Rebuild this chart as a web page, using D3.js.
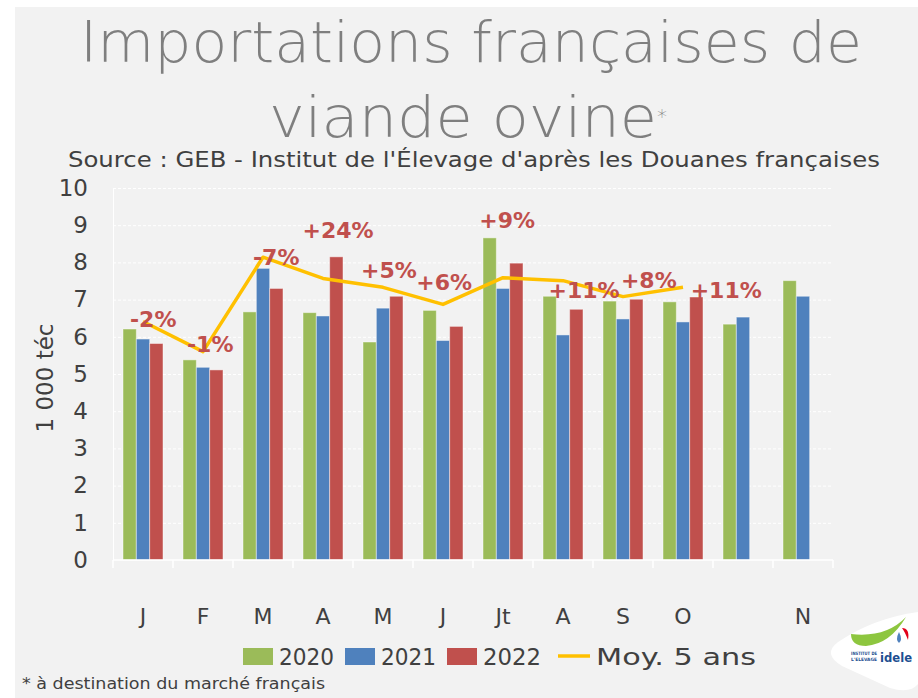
<!DOCTYPE html>
<html lang="fr">
<head>
    <meta charset="UTF-8">
    <title>Importations françaises de viande ovine</title>
    <style>
        body {
            margin: 0;
            padding: 0;
            background: #fff;
            font-family: 'DejaVu Sans', sans-serif;
        }
        .grid line {
            stroke: #fff;
            stroke-dasharray: 3 2;
        }
        .tick text {
            fill: #404040;
        }
        .pct {
            fill: #C0504D;
            font-weight: bold;
            font-size: 22px;
        }
    </style>
</head>
<body>
    <svg id="chart"></svg>

    <script src="https://d3js.org/d3.v7.min.js"></script>
    <script>
        // Data
        const months = ['J', 'F', 'M', 'A', 'M', 'J', 'Jt', 'A', 'S', 'O', '', 'N'];
        const y2020 = [6.21, 5.38, 6.67, 6.65, 5.86, 6.71, 8.66, 7.09, 6.96, 6.94, 6.34, 7.51];
        const y2021 = [5.94, 5.18, 7.84, 6.56, 6.77, 5.90, 7.30, 6.05, 6.48, 6.40, 6.53, 7.09];
        const y2022 = [5.82, 5.11, 7.30, 8.15, 7.09, 6.28, 7.98, 6.74, 7.01, 7.07];
        const moy5 = [6.41, 5.60, 8.14, 7.57, 7.33, 6.87, 7.59, 7.51, 7.08, 7.33];
        const pctLabels = ['-2%', '-1%', '-7%', '+24%', '+5%', '+6%', '+9%', '+11%', '+8%', '+11%'];
        // where each label sits (value axis) and its shift from the group centre, in groups
        const pctLabelY = [6.26, 5.59, 7.93, 8.66, 7.58, 7.26, 8.92, 7.04, 7.31, 7.04];
        const pctLabelDx = [0.17, 0.12, 0.22, 0.25, 0.1, 0.02, 0.07, 0.35, 0.43, 0.72];
        const yTicks = [0, 1, 2, 3, 4, 5, 6, 7, 8, 9, 10];

        const series = [
            { name: '2020', values: y2020, color: '#9BBB59' },
            { name: '2021', values: y2021, color: '#4F81BD' },
            { name: '2022', values: y2022, color: '#C0504D' }
        ];

        const width = 918;
        const height = 698;

        const svg = d3.select('#chart')
            .attr('width', width)
            .attr('height', height);

        // panel background
        svg.append('rect')
            .attr('x', 15).attr('y', 7)
            .attr('width', width - 15).attr('height', height - 7)
            .attr('fill', '#f2f2f2');

        // Scales
        const x0 = d3.scaleBand()
            .domain(d3.range(months.length))
            .range([113, 833])
            .paddingInner(1 / 3)
            .paddingOuter(1 / 6);

        const x1 = d3.scaleBand()
            .domain(series.map(s => s.name))
            .range([0, x0.bandwidth()]);

        const y = d3.scaleLinear()
            .domain([0, 10])
            .range([560, 188]);

        // Title
        svg.append('text')
            .attr('x', 471).attr('y', 62)
            .attr('text-anchor', 'middle')
            .attr('fill', '#7f7f7f')
            .attr('font-size', 57)
            .attr('font-weight', 300)
            .attr('textLength', 782)
            .attr('lengthAdjust', 'spacingAndGlyphs')
            .text('Importations françaises de');

        const t2 = svg.append('text')
            .attr('x', 468).attr('y', 137)
            .attr('text-anchor', 'middle')
            .attr('fill', '#7f7f7f')
            .attr('font-weight', 300)
            .attr('font-size', 57);
        t2.append('tspan')
            .attr('textLength', 388)
            .attr('lengthAdjust', 'spacingAndGlyphs')
            .text('viande ovine');
        t2.append('tspan')
            .attr('font-size', 20)
            .attr('dy', -14)
            .text('*');

        svg.append('text')
            .attr('x', 474).attr('y', 167)
            .attr('text-anchor', 'middle')
            .attr('fill', '#404040')
            .attr('font-size', 21)
            .attr('textLength', 812)
            .attr('lengthAdjust', 'spacingAndGlyphs')
            .text("Source : GEB - Institut de l'Élevage d'après les Douanes françaises");

        // Gridlines
        svg.append('g')
            .attr('class', 'grid')
            .attr('transform', 'translate(113,0)')
            .call(d3.axisLeft(y).tickValues(yTicks.slice(1)).tickSize(-720).tickFormat(''))
            .call(g => g.select('.domain').remove());

        // Y axis
        svg.append('g')
            .attr('transform', 'translate(113,0)')
            .call(d3.axisLeft(y).tickValues(yTicks).tickSize(0).tickPadding(25))
            .call(g => g.select('.domain').attr('stroke', '#fff'))
            .call(g => g.selectAll('.tick text')
                .attr('font-size', 23)
                .attr('font-family', 'DejaVu Sans'));

        svg.append('text')
            .attr('transform', 'translate(53,378) rotate(-90)')
            .attr('text-anchor', 'middle')
            .attr('fill', '#404040')
            .attr('font-size', 23)
            .text('1 000 téc');

        // Bars
        series.forEach(s => {
            svg.append('g')
                .selectAll('rect')
                .data(s.values)
                .join('rect')
                .attr('x', (d, i) => x0(i) + x1(s.name))
                .attr('y', d => y(d))
                .attr('width', x1.bandwidth())
                .attr('height', d => y(0) - y(d))
                .attr('fill', s.color)
                .attr('stroke', '#fff')
                .attr('stroke-opacity', 0.45)
                .attr('stroke-width', 1);
        });

        // X axis: boundary ticks + month labels
        const xAxis = svg.append('g');
        xAxis.append('line')
            .attr('x1', 113).attr('x2', 833)
            .attr('y1', y(0)).attr('y2', y(0))
            .attr('stroke', '#fff').attr('stroke-width', 1.5);
        xAxis.selectAll('.bt')
            .data(d3.range(months.length + 1))
            .join('line')
            .attr('x1', i => 113 + i * x0.step())
            .attr('x2', i => 113 + i * x0.step())
            .attr('y1', y(0)).attr('y2', y(0) + 8)
            .attr('stroke', '#fff').attr('stroke-width', 1.5);

        svg.append('g')
            .attr('transform', `translate(0,${y(0)})`)
            .call(d3.axisBottom(x0).tickFormat(i => months[i]).tickSize(0).tickPadding(48))
            .call(g => g.select('.domain').remove())
            .call(g => g.selectAll('.tick text')
                .attr('font-size', 22)
                .attr('font-family', 'DejaVu Sans'));

        // 5-year average line
        const line = d3.line()
            .x((d, i) => x0(i) + x0.bandwidth() / 2)
            .y(d => y(d));

        svg.append('path')
            .datum(moy5)
            .attr('d', line)
            .attr('fill', 'none')
            .attr('stroke', '#FFC000')
            .attr('stroke-width', 3.5)
            .attr('stroke-linejoin', 'round');

        // Percent labels
        svg.append('g')
            .selectAll('text')
            .data(pctLabels)
            .join('text')
            .attr('class', 'pct')
            .attr('text-anchor', 'middle')
            .attr('x', (d, i) => x0(i) + x0.bandwidth() / 2 + pctLabelDx[i] * x0.step())
            .attr('y', (d, i) => y(pctLabelY[i]))
            .text(d => d);

        // Legend
        const legendItems = [
            { label: '2020', color: '#9BBB59', x: 243, type: 'rect', w: 55 },
            { label: '2021', color: '#4F81BD', x: 345, type: 'rect', w: 55 },
            { label: '2022', color: '#C0504D', x: 447, type: 'rect', w: 58 },
            { label: 'Moy. 5 ans', color: '#FFC000', x: 558, type: 'line', w: 160 }
        ];
        const legend = svg.append('g');
        legendItems.forEach(it => {
            if (it.type === 'rect') {
                legend.append('rect')
                    .attr('x', it.x).attr('y', 648)
                    .attr('width', 30).attr('height', 17)
                    .attr('fill', it.color);
            } else {
                legend.append('line')
                    .attr('x1', it.x).attr('x2', it.x + 32)
                    .attr('y1', 656).attr('y2', 656)
                    .attr('stroke', it.color).attr('stroke-width', 3.5);
            }
            legend.append('text')
                .attr('x', it.x + (it.type === 'rect' ? 36 : 38))
                .attr('y', 665)
                .attr('fill', '#404040')
                .attr('font-size', 23)
                .attr('textLength', it.w)
                .attr('lengthAdjust', 'spacingAndGlyphs')
                .text(it.label);
        });

        // Footnote
        svg.append('text')
            .attr('x', 22).attr('y', 689)
            .attr('fill', '#404040')
            .attr('font-size', 16)
            .attr('textLength', 303)
            .attr('lengthAdjust', 'spacingAndGlyphs')
            .text('* à destination du marché français');

        // Logo
        const logo = svg.append('g');
        logo.append('path')
            .attr('d', 'M918,612 L918,684 Q910,694 890,688 L842,666 Q822,654 838,642 Q874,618 918,612 Z')
            .attr('fill', '#fff');
        logo.append('path')
            .attr('d', 'M851,634 Q851,646 866,646 Q890,644 906,617 Q886,638 851,634 Z')
            .attr('fill', '#8DC63F');
        logo.append('path')
            .attr('d', 'M902,628 Q910,628 908,640 Q905,632 902,628 Z')
            .attr('fill', '#E2001A');
        logo.append('path')
            .attr('d', 'M899,632 Q903,640 899,643 Q895,640 899,632 Z')
            .attr('fill', '#4F81BD');
        logo.append('text')
            .attr('x', 851).attr('y', 655)
            .attr('font-size', 4.5).attr('fill', '#1d4f91').attr('font-weight', 'bold')
            .attr('textLength', 26).attr('lengthAdjust', 'spacingAndGlyphs')
            .text('INSTITUT DE');
        logo.append('text')
            .attr('x', 851).attr('y', 661)
            .attr('font-size', 4.5).attr('fill', '#1d4f91').attr('font-weight', 'bold')
            .attr('textLength', 26).attr('lengthAdjust', 'spacingAndGlyphs')
            .text("L'ELEVAGE");
        logo.append('text')
            .attr('x', 880).attr('y', 662)
            .attr('font-size', 12).attr('fill', '#1d4f91').attr('font-weight', 'bold')
            .attr('textLength', 32).attr('lengthAdjust', 'spacingAndGlyphs')
            .text('idele');
    </script>
</body>
</html>
